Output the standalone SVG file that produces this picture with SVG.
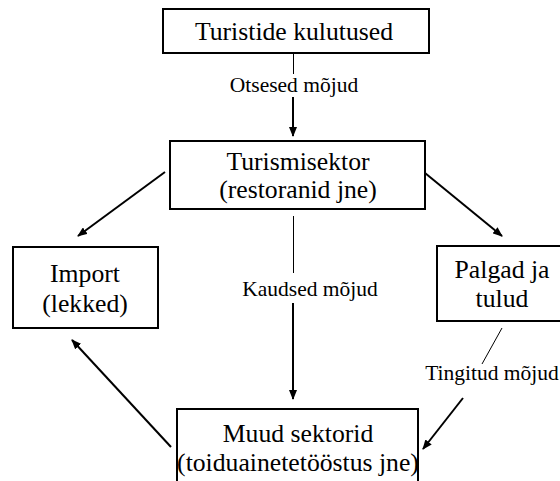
<svg xmlns="http://www.w3.org/2000/svg" width="560" height="481" viewBox="0 0 560 481">
  <style>
    .box { fill: #fff; stroke: #000; stroke-width: 2; }
    .t { font-family: 'Liberation Serif', 'DejaVu Serif', serif; font-size: 25.7px; fill: #000; text-anchor: middle; }
    .lbl { font-family: 'Liberation Serif', 'DejaVu Serif', serif; font-size: 21.5px; fill: #000; text-anchor: middle; }
    .thick { stroke: #000; stroke-width: 2; fill: none; }
    .thin { stroke: #000; stroke-width: 1; fill: none; }
  </style>
  <defs>
    <marker id="ah" markerUnits="userSpaceOnUse" markerWidth="10" markerHeight="8" refX="9" refY="4" orient="auto">
      <path d="M0,0 L10,4 L0,8 z" fill="#000"/>
    </marker>
  </defs>
  <rect width="560" height="481" fill="#fff"/>

  <g id="connectors">
    <line class="thin" x1="293.5" y1="53" x2="293.5" y2="74"/>
    <line class="thick" x1="293" y1="97" x2="293" y2="136" marker-end="url(#ah)"/>
    <line class="thick" x1="165" y1="172" x2="78" y2="236" marker-end="url(#ah)"/>
    <line class="thick" x1="425" y1="173" x2="502" y2="236" marker-end="url(#ah)"/>
    <line class="thin" x1="293.5" y1="216" x2="293.5" y2="273"/>
    <line class="thick" x1="293" y1="303" x2="293" y2="399" marker-end="url(#ah)"/>
    <line class="thick" x1="171" y1="447" x2="72" y2="340" marker-end="url(#ah)"/>
    <line class="thin" x1="502" y1="328" x2="482" y2="364"/>
    <line class="thick" x1="463" y1="398" x2="423" y2="449" marker-end="url(#ah)"/>
    <text class="lbl" x="294" y="92">Otsesed mõjud</text>
    <text class="lbl" x="310" y="296">Kaudsed mõjud</text>
    <text class="lbl" x="492" y="380">Tingitud mõjud</text>
  </g>

  <g id="turistide">
    <rect class="box" x="163" y="9" width="266" height="44"/>
    <text class="t" x="294" y="40">Turistide kulutused</text>
  </g>
  <g id="turismisektor">
    <rect class="box" x="170" y="141" width="255" height="68"/>
    <text class="t" x="298" y="170">Turismisektor</text>
    <text class="t" x="298" y="198">(restoranid jne)</text>
  </g>
  <g id="import">
    <rect class="box" x="13" y="247" width="145" height="81"/>
    <text class="t" x="85" y="282">Import</text>
    <text class="t" x="85" y="312">(lekked)</text>
  </g>
  <g id="palgad">
    <rect class="box" x="437" y="246" width="130" height="75"/>
    <text class="t" x="502" y="278">Palgad ja</text>
    <text class="t" x="502" y="307">tulud</text>
  </g>
  <g id="muud">
    <rect class="box" x="177" y="409" width="241" height="90"/>
    <text class="t" x="298" y="442">Muud sektorid</text>
    <text class="t" x="298" y="471">(toiduainetetööstus jne)</text>
  </g>
</svg>
